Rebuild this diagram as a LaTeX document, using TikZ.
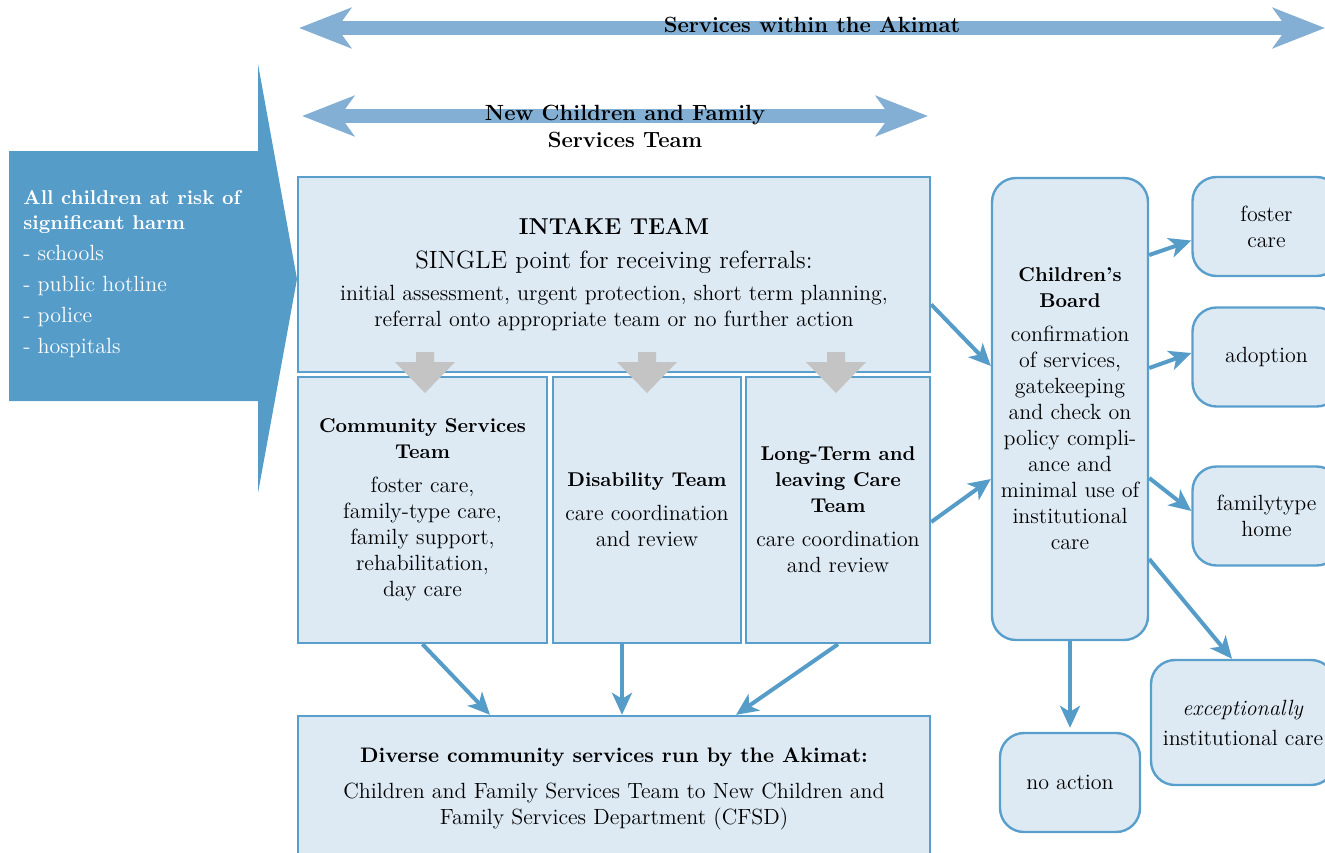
\documentclass[tikz,border=0pt]{standalone}
\usetikzlibrary{arrows.meta,positioning,calc}

\definecolor{boxfill}{HTML}{DDEAF4}
\definecolor{boxline}{HTML}{5A9FCB}
\definecolor{flowblue}{HTML}{559CC9}
\definecolor{spanblue}{HTML}{82AFD3}
\definecolor{greyarrow}{HTML}{C4C4C4}

\tikzset{
  box/.style={draw=boxline, fill=boxfill, line width=1.2pt, inner sep=0pt, align=center, font=\fontsize{11}{13}\selectfont},
  roundbox/.style={box, rounded corners=12pt},
  flow/.style={flowblue, line width=2pt, -{Stealth[length=11pt,width=10pt,inset=3pt]}},
  spanarrow/.style={spanblue, line width=7pt, {Stealth[length=26pt,width=20pt,inset=7pt]}-{Stealth[length=26pt,width=20pt,inset=7pt]}},
  spanlabel/.style={font=\fontsize{11}{13.5}\selectfont\bfseries, align=center, inner sep=0pt},
}

\begin{document}
\begin{tikzpicture}[x=0.5pt,y=-0.5pt]
\clip (0,0) rectangle (1325,852);

% scope arrows at the top
\coordinate (akimatL) at (299,28);
\coordinate (akimatR) at (1325,28);
\draw[spanarrow] (akimatL) -- (akimatR);
\node[spanlabel] (akimat) at (812,25) {Services within the Akimat};

\coordinate (cfstL) at (302,116);
\coordinate (cfstR) at (928,116);
\draw[spanarrow] (cfstL) -- (cfstR);
\node[spanlabel] (cfst) at (625,126) {New Children and Family\\Services Team};

% referrals coming in
\fill[flowblue] (9,151) -- (258,151) -- (258,64) -- (297,279) -- (258,493) -- (258,401) -- (9,401) -- cycle;
\node[anchor=west, align=left, text=white, inner sep=0pt, font=\fontsize{11}{12.5}\selectfont] (referrers) at (23,274)
  {{\fontsize{10}{12.5}\selectfont\bfseries All children at risk of}\\
   {\fontsize{10}{12.5}\selectfont\bfseries significant harm}\\[3pt]
   - schools\\[3pt]
   - public hotline\\[3pt]
   - police\\[3pt]
   - hospitals};

% teams
\node[box, minimum width=316pt, minimum height=97.5pt] (intake) at (614,274.5)
  {{\fontsize{11.5}{14}\selectfont\bfseries INTAKE TEAM}\\[4pt]
   {\fontsize{12.5}{14}\selectfont SINGLE point for receiving referrals:}\\[3pt]
   initial assessment, urgent protection, short term planning,\\
   referral onto appropriate team or no further action};

\node[box, minimum width=124.5pt, minimum height=133pt] (community) at (422.5,510)
  {{\fontsize{10}{13.5}\selectfont\bfseries Community Services}\\
   {\fontsize{10}{13.5}\selectfont\bfseries Team}\\[4pt]
   foster care,\\family-type care,\\family support,\\rehabilitation,\\day care};
\node[box, minimum width=94pt, minimum height=133pt] (disability) at (647,510)
  {{\fontsize{10}{13.5}\selectfont\bfseries Disability Team}\\[4pt]
   care coordination\\and review};
\node[box, minimum width=92pt, minimum height=133pt] (longterm) at (838,510)
  {{\fontsize{10}{13.5}\selectfont\bfseries Long-Term and}\\
   {\fontsize{10}{13.5}\selectfont\bfseries leaving Care}\\
   {\fontsize{10}{13.5}\selectfont\bfseries Team}\\[4pt]
   care coordination\\and review};

\fill[greyarrow] (416,352) -- (434,352) -- (434,362) -- (455,362) -- (425,393) -- (395,362) -- (416,362) -- cycle;
\fill[greyarrow] (638,352) -- (656,352) -- (656,362) -- (677,362) -- (647,393) -- (617,362) -- (638,362) -- cycle;
\fill[greyarrow] (827,352) -- (845,352) -- (845,362) -- (866,362) -- (836,393) -- (806,362) -- (827,362) -- cycle;

\node[box, minimum width=316pt, minimum height=73pt] (diverse) at (614,789)
  {{\fontsize{10.5}{14}\selectfont\bfseries Diverse community services run by the Akimat:}\\[5pt]
   Children and Family Services Team to New Children and\\
   Family Services Department (CFSD)};

% children's board and outcomes
\node[roundbox, minimum width=78pt, minimum height=231pt] (board) at (1070,409)
  {{\fontsize{10}{13.5}\selectfont\bfseries Children's}\\
   {\fontsize{10}{13.5}\selectfont\bfseries Board}\\[4pt]
   confirmation\\of services,\\gatekeeping\\and check on\\policy compli-\\ance and\\minimal use of\\institutional\\care};

\node[roundbox, minimum width=74pt, minimum height=49.5pt] (foster) at (1266.5,226.5) {foster\\care};
\node[roundbox, minimum width=74pt, minimum height=49.5pt] (adoption) at (1266.5,357) {adoption};
\node[roundbox, minimum width=74pt, minimum height=49.5pt] (familytype) at (1266.5,516) {familytype\\home};
\node[roundbox, minimum width=92pt, minimum height=62.5pt] (exceptional) at (1243,722.5) {\textit{exceptionally}\\[2pt]institutional care};
\node[roundbox, minimum width=70pt, minimum height=49.5pt] (noaction) at (1070,782.5) {no action};

% connectors
\draw[flow] (community.south) -- ([xshift=-62pt]diverse.north);
\draw[flow] ([xshift=-12.5pt]disability.south) -- ([xshift=4pt]diverse.north);
\draw[flow] (longterm.south) -- ([xshift=61pt]diverse.north);

\draw[flow] ([yshift=-15pt]intake.east) -- ([yshift=21.5pt]board.west);
\draw[flow] ([yshift=-6pt]longterm.east) -- ([yshift=-35pt]board.west);

\draw[flow] ([yshift=77pt]board.east) -- ([yshift=-7pt]foster.west);
\draw[flow] ([yshift=20.5pt]board.east) -- ([yshift=2pt]adoption.west);
\draw[flow] ([yshift=-34.5pt]board.east) -- ([yshift=2.5pt]familytype.west);
\draw[flow] ([yshift=-75pt]board.east) -- ([xshift=-5.5pt]exceptional.north);
\draw[flow, shorten >=2pt] (board.south) -- (noaction.north);
\end{tikzpicture}
\end{document}
